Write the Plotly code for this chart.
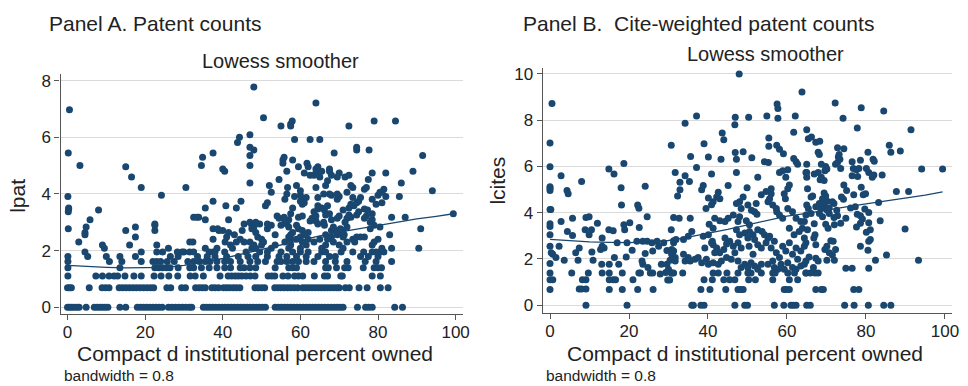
import plotly.graph_objects as go

# ---------------- Panel A data: lpat levels -> institutional ownership values ----------------
lpat_rows = {
    0.00: [0, 0.5, 1.1, 1.7, 2.4, 3.0, 4.8, 6.9, 7.6, 8.3, 9.0, 9.7, 10.4, 13.5, 15.0, 18.0, 18.8, 19.6,
           20.4, 21.2, 22.0, 22.8, 23.6, 24.4, 26.0, 26.9, 27.8, 28.7, 29.6, 30.5, 31.4, 32.0, 35.0, 35.8,
           36.6, 37.4, 38.2, 39.0, 39.8, 40.6, 41.4, 42.2, 43.0, 43.8, 44.6, 45.4, 46.2, 47.0, 47.8, 48.6,
           49.4, 50.2, 51.0, 53.5, 54.3, 55.1, 55.9, 56.7, 57.5, 58.3, 59.1, 59.9, 60.7, 61.5, 62.3, 63.1,
           63.9, 64.7, 65.5, 66.3, 67.1, 67.9, 68.7, 69.5, 70.3, 71.0, 74.7, 76.8, 77.6, 78.5, 84.3, 86.3],
    0.69: [0.0, 0.5, 1.0, 5.6, 8.9, 9.8, 10.7, 13.3, 14.2, 15.1, 16.0, 16.9, 17.8, 18.7, 19.6, 20.5, 21.4,
           22.2, 25.6, 26.6, 29.4, 30.4, 33.0, 33.9, 34.7, 35.5, 37.2, 38.0, 38.9, 40.2, 41.0, 41.8, 42.7,
           43.5, 44.4, 48.3, 49.1, 50.0, 50.8, 53.4, 54.2, 55.0, 55.8, 56.7, 57.5, 58.4, 59.3, 60.6, 61.4,
           62.2, 63.0, 63.8, 64.6, 65.4, 66.2, 67.0, 67.8, 68.6, 69.4, 70.0, 71.6, 72.6, 75.1, 77.2, 80.6, 82.6],
    1.10: [0.1, 7.3, 9.0, 10.7, 12.0, 12.9, 14.8, 17.1, 19.0, 22.3, 24.1, 26.1, 28.4, 31.6, 32.9, 35.0, 39.3,
           41.4, 42.3, 43.2, 44.0, 44.9, 46.0, 47.1, 48.3, 51.7, 52.6, 53.4, 55.5, 56.8, 58.5, 59.5, 60.6,
           63.6, 66.2, 67.0, 70.4, 70.8, 78.5, 80.6],
    1.39: [0.1, 13.5, 22.5, 23.5, 24.5, 25.5, 26.4, 28.5, 31.5, 32.5, 34.5, 36.5, 38.5, 40.5, 42.0, 44.5,
           45.5, 47.0, 48.5, 53.5, 57.0, 58.0, 59.0, 66.5, 67.2, 69.3, 71.4, 72.3, 76.2, 79.0, 80.0, 80.9],
    1.61: [0.1, 10.8, 14.0, 19.0, 22.0, 23.0, 24.0, 25.7, 27.5, 31.0, 32.5, 34.0, 35.5, 36.7, 38.5, 40.5,
           42.0, 44.5, 47.0, 49.0, 51.0, 54.0, 55.0, 56.5, 58.0, 59.5, 61.5, 63.5, 66.5, 69.0, 72.0, 76.7,
           79.5, 83.5],
    1.79: [0.1, 5.2, 10.0, 13.5, 17.5, 26.5, 28.5, 33.5, 36.0, 38.0, 41.0, 44.0, 46.5, 48.5, 51.5, 54.5,
           56.5, 59.0, 61.5, 64.5, 67.5, 69.0, 75.5, 77.5, 80.0],
    1.95: [4.5, 19.0, 23.0, 24.5, 28.3, 29.5, 30.0, 31.5, 32.5, 36.5, 37.5, 38.0, 40.5, 46.0, 49.5, 51.5,
           55.0, 58.0, 60.0, 62.0, 65.5, 66.5, 70.5, 73.5, 76.3, 78.5, 79.5, 80.5, 81.5],
    2.08: [9.5, 26.0, 35.5, 38.5, 42.5, 47.5, 48.5, 52.5, 57.0, 60.0, 65.5, 71.0, 81.0, 83.5, 90.5],
    2.20: [9.0, 16.0, 23.0, 42.0, 48.0, 50.0, 53.5, 57.5, 61.5, 66.5, 70.0, 78.5],
    2.30: [2.9, 31.5, 32.3, 40.6, 43.5, 45.5, 47.0, 50.5, 56.0, 60.5, 63.5, 68.5, 72.0, 74.0, 79.0],
    2.40: [37.5, 44.5, 50.0, 57.5, 59.0, 62.0, 65.0, 67.0, 73.5, 80.0],
    2.48: [17.5, 41.0, 49.0, 57.0, 60.0, 68.0, 71.0, 74.5, 75.5, 76.5],
    2.56: [4.5, 43.0, 53.5, 57.5, 61.0, 66.5, 69.5, 71.3, 83.0],
    2.64: [4.5, 41.5, 48.5, 58.0, 62.0, 70.0],
    2.71: [15.0, 22.5, 39.0, 40.0, 45.0, 60.5, 68.0, 69.5, 71.0],
    2.77: [0.2, 37.5, 38.7, 47.5, 51.5, 59.5, 70.3, 78.0, 91.0],
    2.83: [4.8, 17.5, 48.0, 57.0, 68.5, 72.0, 80.5],
    2.89: [22.5, 47.5, 52.5, 55.0, 59.0, 66.2, 79.0],
    2.94: [22.5, 45.5, 49.5, 51.5, 56.5, 64.5],
    3.00: [47.0, 48.5, 56.0, 66.0, 71.5, 78.0],
    3.04: [56.5, 62.5, 64.0],
    3.09: [5.8, 35.5, 41.5, 57.0, 68.0, 78.5],
    3.14: [54.5, 63.0, 69.5, 72.0, 76.5],
    3.18: [32.5, 33.3, 33.8, 55.8, 59.5, 73.0, 83.5, 87.0],
    3.22: [54.0, 60.5, 64.0, 70.0, 77.0],
    3.26: [66.5, 72.5, 74.5],
    3.30: [57.5, 67.5, 78.5, 99.4],
    3.37: [0.2, 63.5, 75.0],
    3.43: [8.0, 66.2, 71.0, 77.3],
    3.47: [0.3, 64.5, 76.5],
    3.50: [0.3, 35.5, 43.5, 58.0, 65.5, 72.5],
    3.58: [40.8, 51.0, 64.5, 67.0, 73.8],
    3.64: [60.5, 73.0, 79.5],
    3.69: [51.5, 61.0, 74.5, 81.0],
    3.74: [37.5, 44.7, 60.0, 75.0],
    3.81: [56.0, 60.5, 69.5, 78.5],
    3.87: [61.5, 64.5, 73.5, 75.5],
    3.91: [0.1, 58.5, 70.0, 82.0, 85.5],
    3.95: [24.2, 60.0, 68.0, 80.0],
    4.00: [56.5, 66.0, 67.5, 69.5],
    4.06: [52.5, 72.0, 80.5, 81.0],
    4.11: [60.0, 94.0],
    4.17: [76.5, 81.5],
    4.23: [19.0, 30.5, 56.7, 64.0, 73.5, 77.0],
    4.30: [52.0, 59.0, 66.5, 73.0],
    4.39: [47.0, 86.0],
    4.47: [67.0],
    4.51: [54.5, 77.5],
    4.60: [16.5, 65.0, 69.5, 71.5],
    4.66: [62.5, 63.5, 68.0, 72.5],
    4.74: [61.0, 64.0, 70.0, 78.5, 82.0],
    4.80: [40.5, 56.5, 65.5, 67.5, 89.0],
    4.88: [40.0, 64.0, 67.5],
    4.96: [15.0, 59.5, 62.0, 64.5],
    5.00: [3.2, 34.5, 47.0],
    5.08: [55.5, 61.7],
    5.20: [55.5, 58.0],
    5.30: [34.8, 55.8],
    5.36: [47.0, 91.5],
    5.45: [0.2, 37.5, 68.7],
    5.55: [48.0, 74.5, 77.7],
    5.65: [47.0, 74.5],
    5.82: [43.8],
    5.92: [58.5, 62.5, 65.0],
    6.00: [44.3],
    6.09: [47.0],
    6.40: [55.0, 57.5, 72.5],
    6.47: [57.5],
    6.58: [57.9, 79.0, 84.5],
    6.69: [50.5],
    6.97: [0.5],
    7.21: [64.0],
    7.78: [48.0],
}

lowessA_x = [0, 5, 10, 15, 20, 25, 30, 35, 40, 45, 50, 55, 60, 65, 70, 75, 80, 85, 90, 95, 99.4]
lowessA_y = [1.48, 1.44, 1.41, 1.39, 1.39, 1.41, 1.48, 1.58, 1.72, 1.88, 2.05, 2.22, 2.38, 2.52,
             2.65, 2.77, 2.90, 3.02, 3.12, 3.21, 3.30]

# ---------------- Panel B data: (institutional %, lcites) ----------------
lcites_pts = [
    (0.5, 8.72), (0, 7.02), (0, 5.99), (0, 5.06), (0, 4.96), (0, 5.12), (0, 4.14), (0.2, 4.14), (0, 3.52),
    (0, 3.4), (0, 3.05), (0, 2.55), (0.3, 2.27), (0.7, 2.2), (1.5, 2.06), (0, 1.8), (0, 1.39), (0, 1.1),
    (0.7, 1.1), (0, 0.68), (2.8, 5.6), (2.8, 3.62), (2.3, 2.55), (3.6, 1.94), (4.3, 4.96), (4.6, 4.82),
    (4.4, 3.19), (5.7, 3.02), (5.7, 3.76), (5.5, 1.39), (6.5, 2.27), (7.4, 2.48), (7.1, 1.94), (7.4, 0.7),
    (8, 0.7), (9.1, 0.7), (8, 5.35), (8.2, 1.1), (9.1, 1.1), (8.9, 3.26), (9.9, 3.05), (10.5, 3.26),
    (9.1, 3.79), (9.9, 3.83), (9.1, 0), (9.7, 1.39), (10.6, 2.3), (10.9, 1.94), (12, 3.55), (12.8, 2.41),
    (13.2, 2.55), (13.7, 2.48), (13.2, 2.91), (13.1, 1.77), (13.2, 1.39), (14.9, 5.89), (14.9, 3.26),
    (16, 3.22), (15, 1.77), (15, 1.39), (15, 1.1), (15, 0.68), (16.2, 5.67), (16, 1.1), (16.6, 1.1),
    (16.3, 2.06), (17, 2.7), (17.4, 1.77), (18, 5.08), (18.1, 4.33), (18.3, 1.39), (18.3, 0.68),
    (18.7, 6.13), (18.7, 3.48), (18.9, 3.26), (19.3, 2.09), (19.5, 2.7), (19.5, 0), (20.2, 3.57),
    (20.8, 2.38), (21, 1.1), (22, 2.77), (22.2, 4.33), (22.5, 4.19), (22.2, 0.68), (22.6, 3.36),
    (22.5, 1.39), (22.9, 1.39), (23.3, 1.91), (23.5, 1.77), (24.1, 5.15), (24.1, 2.24), (24.6, 3.83),
    (23.5, 2.77), (24.6, 2.77), (24.8, 1.63), (25.4, 1.39), (26, 1.39), (25.8, 2.7), (26, 2.34),
    (26.1, 0.68), (27.1, 2.77), (27.5, 2.55), (27.9, 1.35), (28.2, 1.77), (28.8, 2.7), (29.6, 2.37),
    (29.6, 1.77), (29.8, 1.09), (30.3, 1.09), (30, 1.56), (30.4, 1.94), (30.8, 2.41), (31.3, 2.34),
    (30.8, 1.39), (31.3, 1.39), (31.7, 1.91), (31.3, 2.7), (29.3, 1.42),
    # x 30-65
    (30.8, 2.2), (31.7, 2.06), (33.8, 2.2), (34.2, 1.91), (35, 2.06), (35.5, 1.91), (36.7, 1.99),
    (37.5, 2.06), (38.4, 1.84), (39.6, 1.99), (40.1, 1.77), (41.3, 1.84), (42.6, 1.77), (43.4, 1.91),
    (44.7, 2.06), (45.9, 1.99), (47.6, 1.91), (48.4, 1.63), (49.3, 1.77), (50.1, 1.63), (50.9, 1.84),
    (51.8, 1.7), (52.6, 1.56), (53.5, 1.77), (55.2, 1.77), (56.4, 1.91), (56.8, 1.63), (57.7, 1.56),
    (58.5, 1.77), (59.3, 1.56), (60.2, 1.84), (61.4, 1.63), (62.3, 1.56), (63.5, 1.7), (64.4, 1.77),
    (30.8, 1.39), (33.6, 1.39), (41.3, 1.39), (42.6, 1.39), (44.8, 1.39), (47.6, 1.39), (50.1, 1.39),
    (50.9, 1.39), (53.5, 1.39), (56.4, 1.39), (57, 1.39), (60.2, 1.39), (61.9, 1.39), (64.8, 1.39),
    (39.0, 1.1), (41.1, 1.1), (44, 1.1), (45.5, 1.1), (46.8, 1.1), (50.3, 1.1), (52, 1.1), (56.4, 1.1),
    (60.6, 1.1), (62.7, 1.1),
    (38.2, 0.68), (40.5, 0.68), (44.5, 0.68), (47.6, 0.68), (48.3, 0.68), (48.9, 0.68), (59.3, 0.68),
    (59.9, 0.68), (60.6, 0.68),
    (35.9, 0), (36.3, 0), (38.2, 0), (39.0, 0), (46.8, 0), (49.3, 0), (50, 0), (56.8, 0), (59.2, 0),
    (61, 0), (61.6, 0), (62.3, 0), (65, 0),
    (31.3, 3.79), (32.7, 3.76), (35.5, 3.76), (35.9, 3.19), (35, 2.98), (33.8, 2.84), (30.7, 3.26),
    (31.3, 2.79), (31.9, 2.84), (40.3, 3.5), (41.3, 3.33), (40.1, 3.05), (41.1, 2.77), (41.7, 3.76),
    (43, 3.65), (44.3, 3.62), (45.1, 3.76), (46.4, 3.9), (48, 3.83), (47.6, 3.62), (49.7, 3.65),
    (50.5, 3.48), (47.2, 3.26), (48, 3.05), (49.3, 3.12), (50.5, 3.19), (51.4, 3.05), (51.8, 2.84),
    (52.6, 3.26), (53.7, 3.19), (54.3, 3.05), (55.2, 2.91), (41.3, 2.62), (42.2, 2.48), (43, 2.27),
    (41.7, 2.27), (40.9, 2.7), (44, 2.41), (38.8, 2.98), (39.2, 2.48), (44.3, 2.91), (44.7, 2.65),
    (45.5, 2.77), (46.4, 2.55), (46.8, 2.27), (47.6, 2.7), (48.4, 2.48), (50.1, 2.91), (50.4, 2.55),
    (51.4, 2.2), (52.6, 2.62), (53.5, 2.48), (54.7, 2.7), (55.6, 2.98), (56, 2.48), (56.8, 2.77),
    (57.3, 2.27), (58.1, 2.06), (58.9, 2.55), (59.7, 2.34), (60.6, 2.7), (61.4, 2.2), (62.3, 2.48),
    (62.7, 1.99), (63.5, 2.34), (64.4, 2.55), (64.8, 1.91),
    (56, 4.82), (55.6, 4.61), (55.2, 4.47), (56.4, 4.33), (57.3, 4.18), (57.4, 4.04), (58.1, 3.9),
    (58.9, 3.76), (60.2, 4.18), (59.3, 4.82), (59.6, 4.61), (60.2, 5.04), (61.4, 4.04), (62.3, 3.76),
    (63.5, 3.62), (63.9, 3.33), (64.8, 3.9), (60.6, 3.33), (61.8, 3.05), (63.1, 3.19), (64.4, 2.91),
    (65.2, 3.26),
    (31.7, 5.74), (34.2, 5.6), (35.3, 5.35), (40.9, 5.67), (52.6, 5.53), (58.1, 5.74), (58.9, 5.82),
    (60.2, 5.86), (59.7, 5.53), (60.6, 5.2), (64.8, 5.74), (65, 5.53), (32.9, 5.32), (32.9, 4.99),
    (32.3, 4.72), (38.8, 5.18), (38.4, 4.99), (45.1, 5.18), (49.9, 5.08), (56, 5.04), (54.7, 4.92),
    (42.6, 4.89), (42.2, 4.68), (41.3, 4.47), (40.9, 4.35), (40.1, 4.64), (39.5, 4.18), (43, 4.61),
    (48.9, 4.68), (48, 4.47), (47.2, 4.4), (48.4, 4.18), (50.1, 4.33), (52.2, 4.4), (51, 4.11),
    (51.8, 4.04), (52.4, 3.93), (53.5, 4.78), (47.2, 5.74), (37.1, 5.96),
    (47.9, 10.0), (63.8, 9.22), (57.5, 8.7), (57.7, 8.51), (37.1, 8.18), (46.9, 8.13), (50.3, 8.13),
    (54.9, 8.18), (57.7, 8.09), (62.1, 8.18), (34.2, 7.87), (46.8, 7.8), (65, 7.59), (43.6, 7.45),
    (44, 7.16), (61.7, 7.48), (55.4, 7.23), (30.7, 6.92), (39, 6.98), (55.4, 6.88), (57.4, 6.92),
    (58.1, 6.74), (59.1, 6.55), (46.9, 6.6), (48.9, 6.64), (47.2, 6.31), (35.6, 6.43), (40.1, 6.41),
    (43.3, 6.31), (51.1, 6.38), (61.7, 6.34), (62.3, 6.2), (62.7, 6.1), (54.3, 6.21), (55.3, 6.17),
    (65, 6.1),
    # x 65-100
    (72.2, 8.75), (78.8, 8.54), (84.5, 8.4), (74.2, 8.09), (77.8, 7.66), (91.4, 7.59), (65.4, 7.2),
    (66.2, 7.28), (67.3, 7.05), (68.3, 7.09), (67.9, 6.62), (68.2, 6.52), (72.8, 6.81), (74.4, 6.77),
    (73.2, 6.52), (85.9, 6.92), (86.3, 6.62), (88.7, 6.67), (68.7, 6.1), (69.8, 6.0), (70.1, 5.89),
    (69.6, 5.82), (72.3, 6.1), (72.8, 6.17), (73.4, 6.31), (73.0, 6.41), (73.6, 5.91), (76.5, 6.2),
    (78.6, 6.27), (76.8, 5.91), (77.6, 5.86), (78.2, 5.91), (76.5, 5.6), (77.9, 5.57), (80.5, 6.62),
    (81.8, 6.31), (82.1, 6.23), (80.1, 5.91), (80.7, 5.74), (81.6, 5.53), (82.0, 5.63), (84.1, 5.63),
    (94.1, 5.89), (99.4, 5.89), (65.0, 5.74), (66.9, 5.67), (67.9, 5.74), (68.7, 5.53), (68.4, 5.43),
    (69.4, 5.39), (65.2, 5.04), (66.1, 4.68), (66.5, 4.72), (69.4, 4.85), (69.8, 4.72), (69.0, 4.61),
    (70.2, 4.5), (71.5, 4.47), (71.9, 4.4), (74.4, 5.2), (75.1, 4.96), (73.8, 4.68), (74.3, 4.58),
    (76.9, 4.78), (78.8, 5.1), (79.3, 4.78), (79.9, 4.82), (87.7, 4.92), (90.8, 4.92), (83.2, 4.44),
    (65.0, 4.33), (65.4, 4.18), (66.1, 3.97), (67.3, 4.26), (68.2, 4.4), (68.6, 4.18), (69.4, 4.33),
    (69.8, 4.18), (70.2, 4.11), (70.7, 4.21), (72.6, 4.11), (76.1, 4.21), (77.3, 4.26), (79.7, 4.16),
    (80.7, 4.01), (68.2, 3.97), (69.0, 3.83), (70.7, 3.97), (71.9, 3.79), (72.8, 3.87), (77.8, 3.93),
    (78.6, 3.87), (79.1, 3.73), (64.4, 3.62), (66.9, 3.52), (69.8, 3.5), (70.4, 3.33), (72.0, 3.48),
    (73.6, 3.55), (74.9, 3.76), (77.6, 3.38), (78.6, 3.55), (80.7, 3.57), (80.1, 3.16), (81.1, 3.26),
    (83.6, 3.65), (89.9, 3.3), (67.1, 3.05), (66.8, 2.91), (67.3, 2.62), (64.8, 2.7), (69.6, 2.41),
    (70.1, 2.55), (71.1, 2.79), (71.7, 2.77), (72.3, 2.41), (71.5, 2.17), (70.7, 2.27), (78.6, 2.55),
    (80.7, 2.77), (81.1, 2.84), (80.5, 2.38), (85.2, 2.17), (82.4, 1.94), (93.3, 1.94), (65.6, 2.09),
    (67.3, 2.03), (67.9, 1.91), (70.1, 1.94), (72.0, 1.94), (74.9, 1.6), (76.5, 1.6), (80.7, 1.6),
    (64.8, 1.39), (65.9, 1.39), (66.7, 1.63), (67.1, 1.39), (67.9, 1.39), (67.3, 0.68), (68.7, 0.68),
    (69.2, 0.68), (76.9, 0.68), (78.2, 0.68), (65.9, 0), (74.6, 0), (77.0, 0), (80.6, 0), (84.5, 0),
    (86.3, 0),
]

lowessB_x = [0, 5, 10, 15, 20, 25, 30, 35, 40, 45, 50, 55, 60, 65, 70, 75, 80, 85, 90, 95, 99.4]
lowessB_y = [2.85, 2.78, 2.74, 2.72, 2.71, 2.74, 2.80, 2.95, 3.10, 3.28, 3.48, 3.68, 3.85, 3.97,
             4.12, 4.25, 4.38, 4.50, 4.63, 4.76, 4.90]

x_ticks = [0, 20, 40, 60, 80, 100]
yA_ticks = [0, 2, 4, 6, 8]
yB_ticks = [0, 2, 4, 6, 8, 10]

# ---------------- build ----------------
xA, yA = [], []
for lvl, xs in lpat_rows.items():
    for v in xs:
        xA.append(v)
        yA.append(lvl)
xB = [p[0] for p in lcites_pts]
yB = [p[1] for p in lcites_pts]

NAVY = "#1a476f"
FONT = "Liberation Sans, Arial, Helvetica, sans-serif"
TXT = "#222222"
W, H = 968, 386

fig = go.Figure()
fig.add_trace(go.Scatter(x=xA, y=yA, mode="markers", xaxis="x", yaxis="y",
                         marker=dict(color=NAVY, size=7, line=dict(width=0))))
fig.add_trace(go.Scatter(x=lowessA_x, y=lowessA_y, mode="lines", xaxis="x", yaxis="y",
                         line=dict(color=NAVY, width=1.3)))
fig.add_trace(go.Scatter(x=xB, y=yB, mode="markers", xaxis="x2", yaxis="y2",
                         marker=dict(color=NAVY, size=7, line=dict(width=0))))
fig.add_trace(go.Scatter(x=lowessB_x, y=lowessB_y, mode="lines", xaxis="x2", yaxis="y2",
                         line=dict(color=NAVY, width=1.3)))

axis_common = dict(showline=True, linecolor="#555555", linewidth=1.3, ticks="outside", ticklen=5,
                   tickcolor="#555555", tickwidth=1.2, zeroline=False,
                   tickfont=dict(family=FONT, size=17, color=TXT))

fig.update_layout(
    width=W, height=H, margin=dict(l=0, r=0, t=0, b=0),
    paper_bgcolor="white", plot_bgcolor="white", showlegend=False,
    xaxis=dict(domain=[61 / W, 466 / W], range=[-1.79, 101.8], tickvals=x_ticks, showgrid=False,
               anchor="y", ticklabelstandoff=-3, **axis_common),
    yaxis=dict(domain=[1 - 316 / H, 1 - 72 / H], range=[-0.243, 8.24], tickvals=yA_ticks,
               showgrid=True, gridcolor="#dadada", gridwidth=1.3, anchor="x", **axis_common),
    xaxis2=dict(domain=[546.7 / W, 959 / W], range=[-1.84, 101.8], tickvals=x_ticks, showgrid=False,
                anchor="y2", ticklabelstandoff=-3, **axis_common),
    yaxis2=dict(domain=[1 - 315 / H, 1 - 66 / H], range=[-0.34, 10.26], tickvals=yB_ticks,
                showgrid=True, gridcolor="#dadada", gridwidth=1.3, anchor="x2", **axis_common),
)


def txt(s, px, py, size, xanchor="left", angle=0):
    fig.add_annotation(text=s, x=px / W, y=1 - py / H, xref="paper", yref="paper",
                       xanchor=xanchor, yanchor="middle", showarrow=False, textangle=angle,
                       font=dict(family=FONT, size=size, color=TXT))


txt("Panel A. Patent counts", 47, 21, 21)
txt("Lowess smoother", 283, 59, 20, "center")
txt("Compact d institutional percent owned", 257, 356, 21, "center")
txt("bandwidth = 0.8", 62, 378, 15.5)
txt("lpat", 18, 196, 21, "center", -90)

txt("Panel B.  Cite-weighted patent counts", 525, 21, 21)
txt("Lowess smoother", 771, 52, 20, "center")
txt("Compact d institutional percent owned", 750, 356, 21, "center")
txt("bandwidth = 0.8", 548, 378, 15.5)
txt("lcites", 501, 180, 21, "center", -90)

fig.write_html("out.html", config={"displayModeBar": False})

# remove the browser's default page margin so the figure sits at the window origin
with open("out.html", "r", encoding="utf-8") as fh:
    html = fh.read()
html = html.replace("<head>", "<head><style>html,body{margin:0;padding:0;overflow:hidden;}</style>", 1)
with open("out.html", "w", encoding="utf-8") as fh:
    fh.write(html)
